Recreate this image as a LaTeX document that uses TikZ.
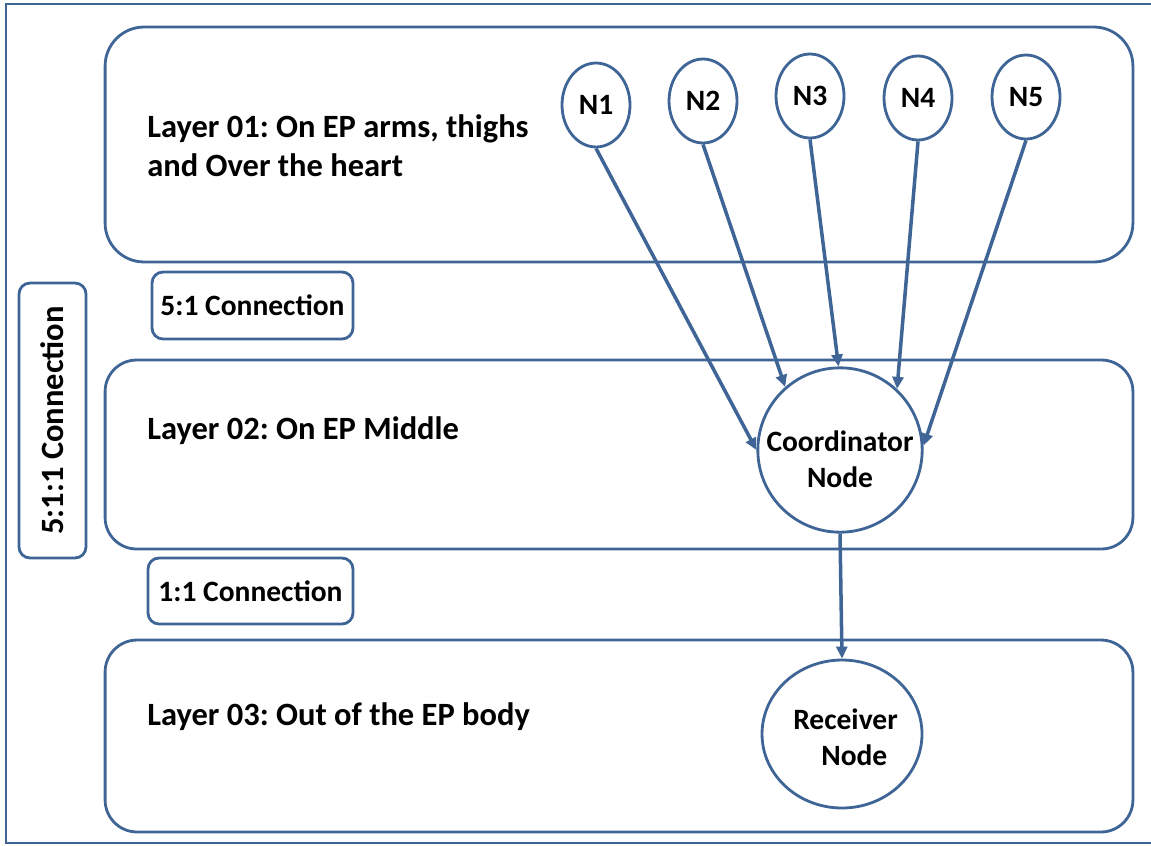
\documentclass[tikz,border=0pt]{standalone}
\usepackage{fontspec}
\setmainfont{Carlito}
\usetikzlibrary{arrows.meta,shapes.geometric,positioning}
\definecolor{epblue}{HTML}{3F6597}
\frenchspacing

\begin{document}
\begin{tikzpicture}[
    x=0.02cm, y=-0.02cm,
    every node/.style={font=\bfseries\fontsize{16.8}{20.5}\selectfont},
    layerbox/.style={draw=epblue, line width=1.6pt, minimum width=20.56cm},
    tagbox/.style={draw=epblue, line width=1.6pt, rounded corners=0.22cm,
                   inner sep=0pt},
    sensor/.style={ellipse, draw=epblue, line width=1.6pt, inner sep=0pt,
                   minimum width=1.36cm, minimum height=1.68cm},
    hub/.style={circle, draw=epblue, line width=1.6pt, inner sep=0pt,
                minimum size=3.28cm, align=center},
    sink/.style={ellipse, draw=epblue, line width=1.6pt, inner sep=0pt,
                 minimum width=3.2cm, minimum height=2.96cm, align=center},
    layerlbl/.style={anchor=west, align=left, inner xsep=0pt,
                     font=\bfseries\fontsize{18.5}{22.2}\selectfont},
    link/.style={-{Triangle[length=0.24cm,width=0.22cm]}, draw=epblue,
                 line width=2pt},
]
\useasboundingbox (0,0) rectangle (1151,845);

% ── Outer frame ─────────────────────────────────────────────────
\draw[epblue, line width=1.6pt] (1151,4) -- (6,4) -- (6,843) -- (1151,843);

% ── Layers ──────────────────────────────────────────────────────
\node[layerbox, rounded corners=0.78cm, minimum height=4.7cm] (layerA) at (619,144.5) {};
\node[layerbox, rounded corners=0.63cm, minimum height=3.78cm] (layerB) at (619,454.5) {};
\node[layerbox, rounded corners=0.64cm, minimum height=3.84cm] (layerC) at (619,736) {};

\node[layerlbl] (lblA) at (147,146) {Layer 01: On EP arms, thighs\\and Over the heart};
\node[layerlbl] (lblB) at (147,431) {Layer 02: On EP Middle};
\node[layerlbl] (lblC) at (147,717) {Layer 03: Out of the EP body};

% ── Connection tags ─────────────────────────────────────────────
\node[tagbox, minimum width=4.02cm, minimum height=1.34cm] (tagA) at (252.5,305.5) {5:1 Connection\hspace{6pt}};
\node[tagbox, minimum width=4.1cm, minimum height=1.32cm] (tagB) at (250.5,591) {1:1 Connection\hspace{8pt}};
\node[tagbox, rotate=90, minimum width=5.5cm, minimum height=1.34cm,
      font=\bfseries\fontsize{18.5}{22.2}\selectfont] (tagAll) at (52.5,420.5) {5:1:1 Connection\hspace{16pt}};

% ── Nodes ───────────────────────────────────────────────────────
\foreach \i/\x/\y in {1/596/105, 2/703/101, 3/810/96, 4/918/98, 5/1026/97}{
  \node[sensor] (n\i) at (\x,\y) {N\i};
}
\node[hub] (coord) at (840,450) {\rule{0pt}{22pt}Coordinator\\Node};
\node[sink] (recv) at (842,734) {\rule{0pt}{16pt}\hspace{4pt}Receiver\\\hspace{14pt}Node};

% ── Links ───────────────────────────────────────────────────────
\foreach \i/\a in {1/180, 2/131, 3/91, 4/47, 5/3}{
  \draw[link] (n\i.south) -- (coord.\a);
}
\draw[link] (coord.south) -- (recv.north);

\end{tikzpicture}
\end{document}
